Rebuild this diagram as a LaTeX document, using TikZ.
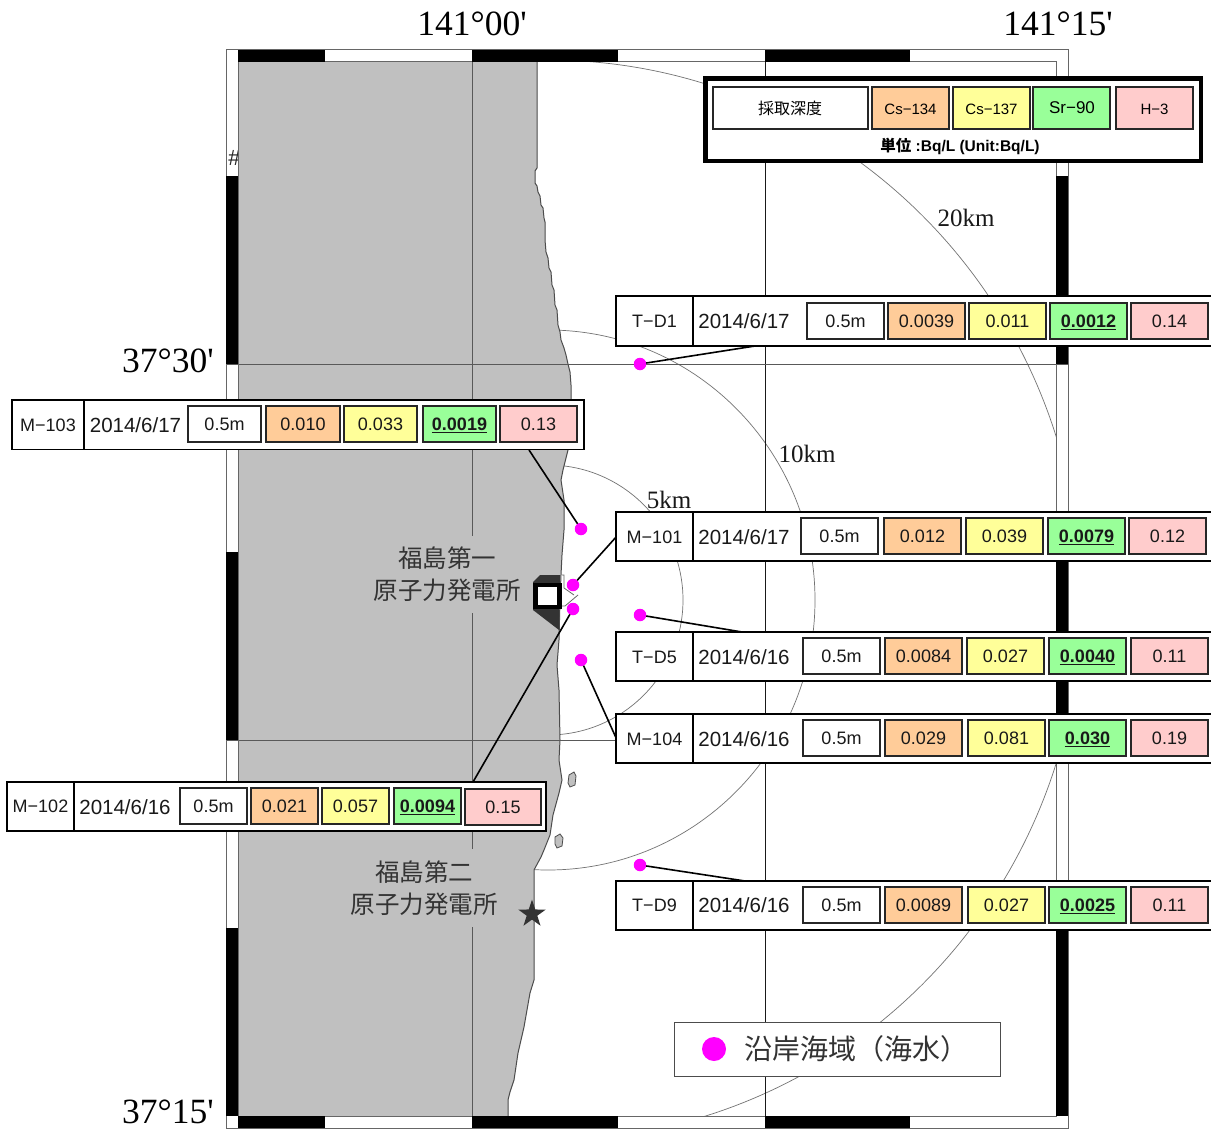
\documentclass[tikz,border=0pt]{standalone}
\usepackage{fontspec}
\setmainfont{Liberation Sans}
\newfontfamily\serifnum{Liberation Serif}
\newfontfamily\jpfont{Noto Sans CJK JP}
\usetikzlibrary{shapes.geometric}
\definecolor{landgray}{HTML}{C0C0C0}
\definecolor{cso}{HTML}{FFCC99}
\definecolor{csy}{HTML}{FFFF99}
\definecolor{srg}{HTML}{99FF99}
\definecolor{hp}{HTML}{FFCCCC}
\definecolor{dotm}{HTML}{FF00FF}
\definecolor{inkgray}{HTML}{333333}
\tikzset{
  cellbox/.style={draw=black!85,line width=1.4pt,inner sep=0pt,outer sep=0pt,font=\fontsize{18}{18}\selectfont,text height=13pt,text depth=0pt,text=black!90},
  rowbox/.style={draw=black,line width=1.4pt,fill=white,inner sep=0pt,outer sep=0pt},
  sepline/.style={draw=black,line width=1.4pt},
  idtext/.style={font=\fontsize{18}{18}\selectfont,inner sep=0pt,text=black!90},
  datetext/.style={font=\fontsize{20.5}{20.5}\selectfont,inner sep=0pt,text=black!90},
  headtext/.style={font=\jpfont\fontsize{16}{16}\selectfont,inner sep=0pt},
  arc line/.style={draw=black!55,line width=0.7pt},
  grid line/.style={draw=black!65,line width=1pt},
  sea line/.style={draw=black!90,line width=1pt},
  frame line/.style={draw=black!60,line width=1pt},
  band/.style={fill=black,draw=none},
  leader/.style={draw=black,line width=1.6pt},
  sample/.style={circle,fill=dotm,draw=none,minimum size=12.5pt,inner sep=0pt,outer sep=0pt},
  degree/.style={font=\serifnum\fontsize{35.5}{35.5}\selectfont,inner sep=0pt},
  kmtext/.style={font=\serifnum\fontsize{25}{25}\selectfont,inner sep=0pt,text=black!90},
  plantname/.style={font=\jpfont\fontsize{24.5}{32}\selectfont,text=inkgray,align=center,inner sep=0pt},
}
\newcommand{\cellrect}[7]{%
  \pgfmathsetmacro\cellw{#3-#2}\pgfmathsetmacro\cellh{#5-#4}%
  \node[cellbox,fill=#6,anchor=north west,minimum width=\cellw pt,minimum height=\cellh pt] (#1) at (#2,#4) {#7};}
\newcommand{\srv}[1]{\underline{\textbf{#1}}}
\begin{document}
\begin{tikzpicture}[x=1pt,y=-1pt]
\clip (0,0) rectangle (1211,1129);
\fill[white] (0,0) rectangle (1211,1129);
% hash mark
\node[font=\fontsize{22}{22}\selectfont,inner sep=0pt,text=black!85] (hashmark) at (234.5,158) {\#};
% range circles
\begin{scope}
\clip (238,62) rectangle (1056,1116);
\coordinate (plantc) at (548,600);
\draw[arc line] (plantc) ellipse[x radius=135,y radius=135];
\draw[arc line] (plantc) ellipse[x radius=267,y radius=270];
\draw[arc line] (plantc) ellipse[x radius=533,y radius=540];
\end{scope}
% land
\fill[landgray] (238,62) -- (537,62) -- (537,168) -- (535,171) -- (535,183) -- (537,186) -- (538,192) -- (540,196) -- (541,205) -- (543,208) -- (544,218) -- (545,222) -- (545,240) -- (546,252) -- (548,258) -- (549,268) -- (551,272) -- (552,285) -- (554,290) -- (555,305) -- (557,310) -- (558,325) -- (560,332) -- (561,340) -- (564,348) -- (566,355) -- (568,364) -- (570,372) -- (571,385) -- (571,400) -- (569,425) -- (568,450) -- (563,470) -- (561,480) -- (564,500) -- (564,530) -- (562,555) -- (561,575) -- (560,600) -- (559,640) -- (557,665) -- (559,690) -- (560,740) -- (559,760) -- (562,780) -- (559,793) -- (553,815) -- (550,835) -- (544,850) -- (541,857) -- (534,870) -- (534,900) -- (534,933) -- (534,980) -- (530,993) -- (527,1010) -- (524,1027) -- (518,1053) -- (514,1080) -- (510,1092) -- (508,1100) -- (508,1116) -- (238,1116) -- cycle;
\draw[draw=black!70,line width=1pt] (537,62) -- (537,168) -- (535,171) -- (535,183) -- (537,186) -- (538,192) -- (540,196) -- (541,205) -- (543,208) -- (544,218) -- (545,222) -- (545,240) -- (546,252) -- (548,258) -- (549,268) -- (551,272) -- (552,285) -- (554,290) -- (555,305) -- (557,310) -- (558,325) -- (560,332) -- (561,340) -- (564,348) -- (566,355) -- (568,364) -- (570,372) -- (571,385) -- (571,400) -- (569,425) -- (568,450) -- (563,470) -- (561,480) -- (564,500) -- (564,530) -- (562,555) -- (561,575) -- (560,600) -- (559,640) -- (557,665) -- (559,690) -- (560,740) -- (559,760) -- (562,780) -- (559,793) -- (553,815) -- (550,835) -- (544,850) -- (541,857) -- (534,870) -- (534,900) -- (534,933) -- (534,980) -- (530,993) -- (527,1010) -- (524,1027) -- (518,1053) -- (514,1080) -- (510,1092) -- (508,1100) -- (508,1116);
% islands
\draw[fill=landgray,draw=black!70,line width=0.8pt] (569,775) -- (574,772) -- (576,776) -- (575,785) -- (570,787) -- (568,783) -- cycle;
\draw[fill=landgray,draw=black!70,line width=0.8pt] (555,837) -- (560,834) -- (563,838) -- (562,846) -- (557,848) -- (555,844) -- cycle;
% grid
\draw[grid line] (472,62) -- (472,1116);
\draw[sea line] (765,62) -- (765,1116);
\draw[grid line] (226,364) -- (1068,364);
\draw[grid line] (226,740) -- (1068,740);
% frame
\draw[frame line] (226,50) rectangle (1068,1128);
\draw[frame line] (238,62) rectangle (1056,1116);
\foreach \a/\b in {238/325,472/618,765/910} {
  \fill[band] (\a,50) rectangle (\b,62);
  \fill[band] (\a,1116) rectangle (\b,1128);
}
\foreach \a/\b in {176/364,552/740,928/1116} {
  \fill[band] (226,\a) rectangle (238,\b);
  \fill[band] (1056,\a) rectangle (1068,\b);
}
% plant 1
\fill[inkgray] (533,582) -- (540,575) -- (560,575) -- (559,630) -- (533,610) -- cycle;
\fill[black] (533,583) rectangle (562,609);
\fill[white] (538,587) rectangle (557,605);
\draw[draw=black!60,line width=0.8pt] (562,575) -- (564,575) -- (564,588) -- (574,595);
\draw[draw=black!60,line width=0.8pt] (562,606) -- (565,606) -- (578,595);
% plant labels
\fill[landgray] (372,536) rectangle (522,613);
\fill[landgray] (350,849) rectangle (498,927);
\node[plantname] (fukuichi) at (447,574) {福島第一\\原子力発電所};
\node[plantname] (fukuni) at (424,888.5) {福島第二\\原子力発電所};
\node[star,star points=5,star point ratio=2.6,fill=inkgray,draw=none,minimum size=29pt,inner sep=0pt] (fukunistar) at (532,914) {};
% degree labels
\node[degree] (lon1) at (472,24) {141°00'};
\node[degree] (lon2) at (1058,24) {141°15'};
\node[degree,anchor=east] (lat1) at (214,361) {37°30'};
\node[degree,anchor=east] (lat2) at (214,1112) {37°15'};
\node[kmtext] (km20) at (966,218) {20km};
\node[kmtext] (km10) at (807,454) {10km};
\node[kmtext] (km5) at (669,500) {5km};
% sampling points
\node[sample] (dtd1) at (640,364) {};
\node[sample] (dm103) at (581,529) {};
\node[sample] (dm101) at (573,585) {};
\node[sample] (dm102) at (573,609) {};
\node[sample] (dtd5) at (640,615) {};
\node[sample] (dm104) at (581,660) {};
\node[sample] (dtd9) at (640,865) {};
% connector ends
\coordinate (ctd1) at (755,346);
\coordinate (cm103) at (529,450);
\coordinate (cm101) at (617,536);
\coordinate (cm102) at (473,782);
\coordinate (ctd5) at (742,632);
\coordinate (cm104) at (617,740);
\coordinate (ctd9) at (745,881);
\draw[leader] (dtd1) -- (ctd1);
\draw[leader] (dm103) -- (cm103);
\draw[leader] (dm101) -- (cm101);
\draw[leader] (dm102) -- (cm102);
\draw[leader] (dtd5) -- (ctd5);
\draw[leader] (dm104) -- (cm104);
\draw[leader] (dtd9) -- (ctd9);
% T-D1
\draw[rowbox] (616,296) rectangle (1216,346);
\draw[sepline] (693,296) -- (693,346);
\node[idtext] (ntd1) at (654.5,321) {T−D1};
\node[datetext] (dttd1) at (744,321) {2014/6/17};
\foreach \k/\a/\b/\c/\t in {a/807/884/white/0.5m,b/888/965/cso/0.0039,c/969/1046/csy/0.011,d/1050/1127/srg/\srv{0.0012},e/1131/1208/hp/0.14} {\cellrect{td1\k}{\a}{\b}{303}{339}{\c}{\t}}
% M-103
\draw[rowbox] (12,400) rectangle (584,449.5);
\draw[sepline] (84,400) -- (84,449.5);
\node[idtext] (nm103) at (48,425) {M−103};
\node[datetext] (dtm103) at (135.5,425) {2014/6/17};
\foreach \k/\a/\b/\c/\t in {a/188/261/white/0.5m,b/266/340/cso/0.010,c/344/417/csy/0.033,d/423/496/srg/\srv{0.0019},e/500/577/hp/0.13} {\cellrect{m103\k}{\a}{\b}{406}{442}{\c}{\t}}
% M-101
\draw[rowbox] (616,512) rectangle (1216,561);
\draw[sepline] (693,512) -- (693,561);
\node[idtext] (nm101) at (654.5,537) {M−101};
\node[datetext] (dtm101) at (744,537) {2014/6/17};
\foreach \k/\a/\b/\c/\t in {a/801/878/white/0.5m,b/884/961/cso/0.012,c/966/1043/csy/0.039,d/1048/1125/srg/\srv{0.0079},e/1129/1206/hp/0.12} {\cellrect{m101\k}{\a}{\b}{518}{554}{\c}{\t}}
% T-D5
\draw[rowbox] (616,632) rectangle (1216,681);
\draw[sepline] (693,632) -- (693,681);
\node[idtext] (ntd5) at (654.5,657) {T−D5};
\node[datetext] (dttd5) at (744,657) {2014/6/16};
\foreach \k/\a/\b/\c/\t in {a/803/880/white/0.5m,b/885/962/cso/0.0084,c/967/1044/csy/0.027,d/1049/1126/srg/\srv{0.0040},e/1131/1208/hp/0.11} {\cellrect{td5\k}{\a}{\b}{638}{674}{\c}{\t}}
% M-104
\draw[rowbox] (616,714) rectangle (1216,763);
\draw[sepline] (693,714) -- (693,763);
\node[idtext] (nm104) at (654.5,739) {M−104};
\node[datetext] (dtm104) at (744,739) {2014/6/16};
\foreach \k/\a/\b/\c/\t in {a/803/880/white/0.5m,b/885/962/cso/0.029,c/968/1045/csy/0.081,d/1049/1126/srg/\srv{0.030},e/1131/1208/hp/0.19} {\cellrect{m104\k}{\a}{\b}{720}{756}{\c}{\t}}
% M-102
\draw[rowbox] (7,782) rectangle (546,831);
\draw[sepline] (74,782) -- (74,831);
\node[idtext] (nm102) at (40.5,806) {M−102};
\node[datetext] (dtm102) at (125,807) {2014/6/16};
\foreach \k/\a/\b/\c/\t in {a/180/247/white/0.5m,b/251/318/cso/0.021,c/322/389/csy/0.057,d/394/461/srg/\srv{0.0094}} {\cellrect{m102\k}{\a}{\b}{788}{824}{\c}{\t}}
\cellrect{m102e}{465}{541}{789}{825}{hp}{0.15}
% T-D9
\draw[rowbox] (616,881) rectangle (1216,930);
\draw[sepline] (693,881) -- (693,930);
\node[idtext] (ntd9) at (654.5,905) {T−D9};
\node[datetext] (dttd9) at (744,905) {2014/6/16};
\foreach \k/\a/\b/\c/\t in {a/803/880/white/0.5m,b/885/962/cso/0.0089,c/968/1045/csy/0.027,d/1049/1126/srg/\srv{0.0025},e/1131/1208/hp/0.11} {\cellrect{td9\k}{\a}{\b}{887}{923}{\c}{\t}}
% key box
\draw[fill=white,draw=black,line width=4.5pt] (705.5,78.5) rectangle (1201,161);
\cellrect{keyd}{713}{868}{87}{129}{white}{}
\cellrect{keya}{872}{949}{87}{129}{cso}{}
\cellrect{keyb}{953}{1030}{87}{129}{csy}{}
\cellrect{keyc}{1033}{1110}{87}{129}{srg}{}
\cellrect{keye}{1116}{1193}{87}{129}{hp}{}
\node[headtext] (keydt) at (790,108) {採取深度};
\node[font=\fontsize{15}{15}\selectfont,inner sep=0pt] (keyat) at (910.5,109) {Cs−134};
\node[font=\fontsize{15}{15}\selectfont,inner sep=0pt] (keybt) at (991.5,109) {Cs−137};
\node[font=\fontsize{17}{17}\selectfont,inner sep=0pt] (keyct) at (1072,108) {Sr−90};
\node[font=\fontsize{15}{15}\selectfont,inner sep=0pt] (keyet) at (1154.5,109) {H−3};
\node[font=\fontsize{15.5}{15.5}\selectfont\bfseries,inner sep=0pt] (keyunit) at (960,146) {{\jpfont 単位} :Bq/L (Unit:Bq/L)};
% legend
\node[draw=black!70,line width=1pt,fill=white,minimum width=326pt,minimum height=54pt,inner sep=0pt,anchor=north west] (legendbox) at (674,1022) {};
\node[circle,fill=dotm,minimum size=24pt,inner sep=0pt] (legenddot) at (714,1049) {};
\node[font=\jpfont\fontsize{28}{28}\selectfont,text=inkgray,anchor=west,inner sep=0pt] (legendtext) at (744,1049) {沿岸海域（海水）};
\end{tikzpicture}
\end{document}
